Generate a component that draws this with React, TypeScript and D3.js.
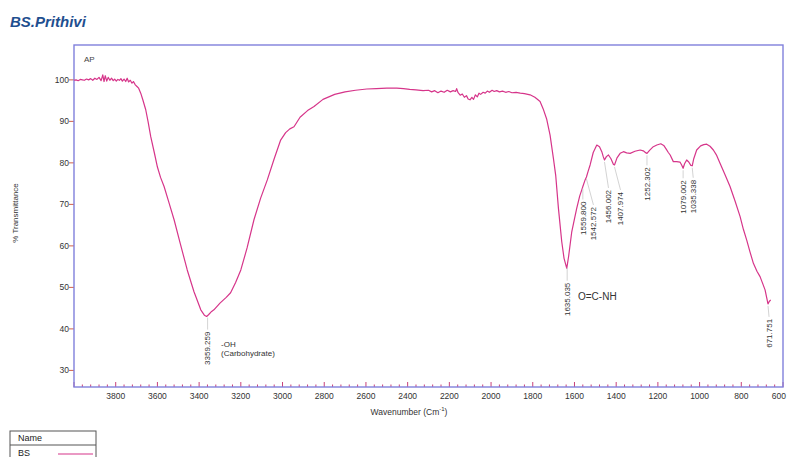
import { useEffect, useRef } from "react";
import * as d3 from "d3";

// IR spectrum (wavenumber cm-1, %T)
const wavenumbers = [
  4000, 3990, 3980, 3970, 3960, 3950, 3940, 3930, 3920, 3910, 3900, 3890, 3880, 3870, 3862, 3856, 3850, 3843,
  3836, 3828, 3820, 3812, 3805, 3797, 3790, 3782, 3775, 3768, 3760, 3752, 3745, 3738, 3730, 3722, 3715, 3706,
  3698, 3690, 3680, 3670, 3656, 3645, 3632, 3615, 3600, 3585, 3568, 3545, 3520, 3490, 3457, 3425, 3392, 3375,
  3364, 3355, 3340, 3329, 3300, 3270, 3249, 3225, 3200, 3170, 3137, 3105, 3073, 3040, 3009, 2985, 2965, 2945,
  2916, 2880, 2849, 2806, 2750, 2700, 2650, 2596, 2550, 2500, 2452, 2420, 2390, 2360, 2326, 2300, 2285, 2270,
  2255, 2240, 2225, 2210, 2195, 2182, 2170, 2165, 2158, 2148, 2138, 2128, 2118, 2110, 2101, 2092, 2084, 2075,
  2066, 2058, 2050, 2038, 2028, 2018, 2008, 1995, 1985, 1973, 1960, 1945, 1930, 1915, 1900, 1880, 1860, 1840,
  1813, 1790, 1775, 1765, 1750, 1733, 1717, 1701, 1690, 1677, 1661, 1650, 1637, 1628, 1613, 1600, 1589, 1575,
  1565, 1559.8, 1549, 1542.6, 1535, 1525, 1510, 1493, 1480, 1469, 1462, 1456, 1447, 1437, 1425, 1413, 1408,
  1396, 1381, 1365, 1350, 1333, 1310, 1285, 1270, 1257, 1252.3, 1240, 1222, 1205, 1186, 1172, 1160, 1150, 1141,
  1126, 1110, 1094, 1086, 1079, 1072, 1062, 1052, 1042, 1035.3, 1028, 1014, 995, 980, 966, 950, 934, 918, 902,
  880, 854, 830, 806, 790, 774, 758, 742, 725, 710, 695, 686, 678, 672, 666, 659,
];
const transmittance = [
  99.9, 100.0, 99.8, 100.1, 100.0, 99.9, 100.2, 100.0, 100.3, 99.9, 100.4, 100.1, 100.6, 99.8, 101.2, 99.6, 101.0, 99.7,
  100.6, 99.9, 100.4, 99.8, 100.2, 99.7, 100.1, 99.9, 100.3, 99.7, 100.2, 99.6, 100.4, 99.5, 99.9, 99.2, 99.6, 98.8,
  98.4, 98.0, 96.8, 95.2, 92.8, 90.0, 86.3, 82.5, 79.0, 76.5, 74.3, 70.5, 66.3, 60.5, 54.2, 49.0, 44.6, 43.3,
  43.0, 43.4, 44.2, 44.6, 46.2, 47.6, 48.7, 51.2, 54.2, 59.5, 66.3, 71.5, 75.9, 81.0, 85.5, 87.3, 88.2, 88.7,
  91.0, 92.6, 93.6, 95.3, 96.5, 97.1, 97.5, 97.8, 97.9, 98.0, 98.0, 97.9, 97.7, 97.6, 97.4, 97.5, 97.1, 97.4,
  96.9, 97.3, 97.0, 97.5, 97.1, 97.4, 97.2, 97.9, 96.9, 96.3, 96.6, 95.8, 96.2, 95.4, 95.2, 95.8, 95.3, 96.4,
  95.9, 96.8, 96.5, 97.0, 96.8, 97.3, 97.0, 97.5, 97.2, 97.4, 97.1, 97.3, 97.0, 97.2, 96.9, 97.0, 96.8, 96.7,
  96.4, 95.8, 95.2, 94.8, 93.0, 90.5, 86.7, 81.1, 77.0, 69.1, 61.0, 57.0, 54.6, 57.5, 63.4, 66.5, 69.1, 72.0,
  73.5, 74.3, 75.9, 76.6, 77.9, 79.5, 82.5, 84.3, 83.9, 82.7, 81.5, 80.7, 81.5, 81.9, 81.0, 79.6, 79.5,
  81.2, 82.3, 82.7, 82.4, 82.3, 82.8, 83.1, 82.9, 82.4, 82.3, 83.0, 83.9, 84.3, 84.6, 84.2, 83.3, 82.5, 81.9,
  80.3, 80.3, 80.2, 79.5, 78.7, 79.8, 80.7, 80.2, 79.4, 79.3, 81.0, 83.1, 84.1, 84.4, 84.5, 84.0, 83.1, 81.8, 79.9,
  77.4, 74.3, 70.8, 67.1, 64.0, 61.4, 58.5, 55.8, 53.9, 52.6, 50.6, 49.4, 47.5, 46.0, 46.6, 47.0,
];

const peakWavenumbers = [3359.259, 1635.035, 1559.8, 1542.572, 1456.002, 1407.974, 1252.302, 1079.002, 1035.338, 671.751];
const peakLabels = ["3359.259", "1635.035", "1559.800", "1542.572", "1456.002", "1407.974", "1252.302", "1079.002", "1035.338", "671.751"];
// leader layout: vertical gap below the curve and sideways shift of the label
const peakGap = [16, 17, 15, 30, 30, 27, 14, 12, 14, 15];
const peakShift = [0, 0, 0, 7, 4, 6, 0, 0, 1, 1];

const yTicks = [30, 40, 50, 60, 70, 80, 90, 100];
const xTicks = [3800, 3600, 3400, 3200, 3000, 2800, 2600, 2400, 2200, 2000, 1800, 1600, 1400, 1200, 1000, 800, 600];

const W = 787;
const H = 457;
const FONT = "Arial, 'Liberation Sans', sans-serif";
const CURVE = "#d6358a";
const FRAME = "#8080dc";

export default function App() {
  const ref = useRef<SVGSVGElement>(null);

  useEffect(() => {
    const svg = d3.select(ref.current);
    svg.selectAll("*").remove();

    const left = 74, right = 783, top = 45, bottom = 387;
    const x = d3.scaleLinear().domain([4000, 600]).range([left, right]);
    const y = d3.scaleLinear().domain([26, 108.4]).range([bottom, top]);

    const data = wavenumbers.map((w, i) => ({ w, t: transmittance[i] }));

    // title
    svg.append("text")
      .attr("x", 10).attr("y", 27)
      .attr("font-family", FONT).attr("font-size", 15)
      .attr("font-weight", "bold").attr("font-style", "italic")
      .attr("fill", "#1f4f8f")
      .text("BS.Prithivi");

    svg.append("text")
      .attr("x", 84).attr("y", 62)
      .attr("font-family", FONT).attr("font-size", 8)
      .attr("fill", "#444")
      .text("AP");

    // y ticks
    const yg = svg.append("g");
    yTicks.forEach((v) => {
      yg.append("line")
        .attr("x1", left - 5).attr("x2", left)
        .attr("y1", y(v)).attr("y2", y(v))
        .attr("stroke", "#d0604a").attr("stroke-width", 1);
      yg.append("text")
        .attr("x", left - 5).attr("y", y(v)).attr("dy", "0.35em")
        .attr("text-anchor", "end")
        .attr("font-family", FONT).attr("font-size", 8.5).attr("fill", "#333")
        .text(v);
    });

    // x ticks: minor every 40, major every 200
    const xg = svg.append("g");
    d3.range(4000, 599, -40).forEach((w) => {
      const major = w % 200 === 0;
      xg.append("line")
        .attr("x1", x(w)).attr("x2", x(w))
        .attr("y1", bottom).attr("y2", bottom - (major ? 5 : 2.5))
        .attr("stroke", "#c8407a").attr("stroke-width", 1);
    });
    xTicks.forEach((w) => {
      // last label sits on the right edge of the window, keep it inside
      const last = x(w) + 10 > W;
      xg.append("text")
        .attr("x", last ? W - 1 : x(w)).attr("y", bottom + 12)
        .attr("text-anchor", last ? "end" : "middle")
        .attr("font-family", FONT).attr("font-size", 8.5).attr("fill", "#333")
        .text(w);
    });

    // frame
    svg.append("rect")
      .attr("x", left).attr("y", top)
      .attr("width", right - left).attr("height", bottom - top)
      .attr("fill", "none").attr("stroke", FRAME).attr("stroke-width", 1.4);

    // axis titles
    const xt = svg.append("text")
      .attr("x", 409).attr("y", 415)
      .attr("text-anchor", "middle")
      .attr("font-family", FONT).attr("font-size", 8.5).attr("fill", "#333");
    xt.append("tspan").text("Wavenumber (Cm");
    xt.append("tspan").attr("font-size", 6).attr("dy", -4).text("-1");
    xt.append("tspan").attr("dy", 4).text(")");

    svg.append("text")
      .attr("transform", `translate(18,213) rotate(-90)`)
      .attr("text-anchor", "middle")
      .attr("font-family", FONT).attr("font-size", 8).attr("fill", "#333")
      .text("% Transmittance");

    // spectrum
    svg.append("path")
      .datum(data)
      .attr("fill", "none")
      .attr("stroke", CURVE)
      .attr("stroke-width", 1.2)
      .attr("stroke-linejoin", "round")
      .attr("d", d3.line<{ w: number; t: number }>().x((d) => x(d.w)).y((d) => y(d.t)));

    // peak labels with leaders
    const interp = (w: number) => {
      const i = data.findIndex((d) => d.w <= w);
      if (i <= 0) return data[Math.max(i, 0)].t;
      const a = data[i - 1], b = data[i];
      return a.t + ((w - a.w) / (b.w - a.w)) * (b.t - a.t);
    };
    const pg = svg.append("g");
    peakWavenumbers.forEach((w, i) => {
      const px = x(w);
      const py = y(interp(w));
      const lx = px + peakShift[i];
      const ly = py + peakGap[i];
      pg.append("line")
        .attr("x1", px).attr("y1", py + 2)
        .attr("x2", lx).attr("y2", ly - 2)
        .attr("stroke", "#c8c8c8").attr("stroke-width", 0.8);
      pg.append("text")
        .attr("transform", `translate(${lx},${ly}) rotate(-90)`)
        .attr("dy", "0.35em")
        .attr("text-anchor", "end")
        .attr("font-family", FONT).attr("font-size", 8).attr("fill", "#333")
        .text(peakLabels[i]);
    });

    // band annotations
    svg.append("text")
      .attr("x", 221).attr("y", 347)
      .attr("font-family", FONT).attr("font-size", 8).attr("fill", "#333")
      .text("-OH");
    svg.append("text")
      .attr("x", 221).attr("y", 356)
      .attr("font-family", FONT).attr("font-size", 8).attr("fill", "#333")
      .text("(Carbohydrate)");
    svg.append("text")
      .attr("x", 578).attr("y", 300)
      .attr("font-family", FONT).attr("font-size", 10).attr("fill", "#333")
      .text("O=C-NH");

    // legend table
    const lg = svg.append("g");
    lg.append("rect")
      .attr("x", 10).attr("y", 431).attr("width", 86).attr("height", 30)
      .attr("fill", "none").attr("stroke", "#555").attr("stroke-width", 1);
    lg.append("line")
      .attr("x1", 10).attr("x2", 96).attr("y1", 445).attr("y2", 445)
      .attr("stroke", "#555").attr("stroke-width", 1);
    lg.append("text")
      .attr("x", 18).attr("y", 441)
      .attr("font-family", FONT).attr("font-size", 9).attr("fill", "#222")
      .text("Name");
    lg.append("text")
      .attr("x", 18).attr("y", 456)
      .attr("font-family", FONT).attr("font-size", 9).attr("fill", "#222")
      .text("BS");
    lg.append("line")
      .attr("x1", 58).attr("x2", 93).attr("y1", 454).attr("y2", 454)
      .attr("stroke", CURVE).attr("stroke-width", 1.2);
  }, []);

  return (
    <svg
      ref={ref}
      width={W}
      height={H}
      style={{ position: "absolute", left: 0, top: 0, background: "#fff" }}
    />
  );
}
